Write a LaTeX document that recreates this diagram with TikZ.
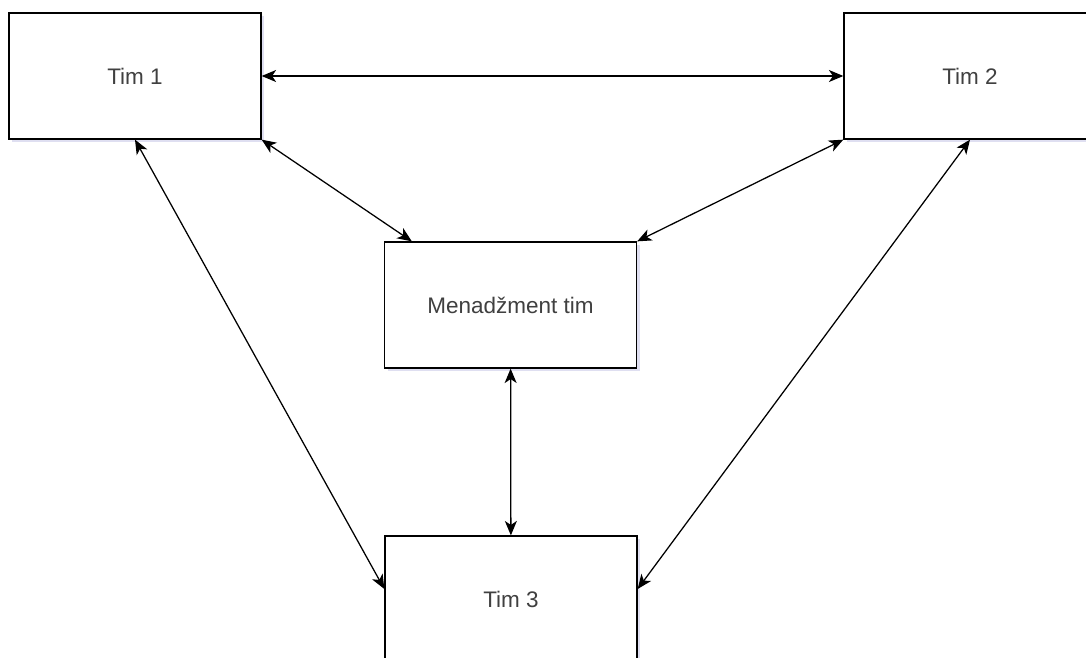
\documentclass[tikz,border=0pt]{standalone}
\usepackage{fontspec}
\setmainfont{Liberation Sans}
\usetikzlibrary{arrows.meta}
\usetikzlibrary{shadows}

\tikzset{
    teambox/.style={draw, line width=0.9pt, fill=white, minimum width=6.3cm, minimum height=3.15cm,
        text=black!75, font=\fontsize{16}{18}\selectfont,
        drop shadow={opacity=0.18, fill=blue!40!gray, shadow xshift=0.08cm, shadow yshift=-0.08cm}},
    link/.style={line width=0.9pt, {Stealth[length=0.36cm, width=0.3cm, inset=0.1cm]}-{Stealth[length=0.36cm, width=0.3cm, inset=0.1cm]}}
}

\begin{document}
\begin{tikzpicture}[x=0.025cm, y=-0.025cm]
        \useasboundingbox (0, 0) rectangle (1086, 658);
        \clip (0, 0) rectangle (1086, 658);
        \node[teambox] (T1) at (135, 76) {Tim 1};
        \node[teambox] (T2) at (970, 76) {Tim 2};
        \node[teambox] (MT) at (510.5, 305) {Menadžment tim};
        \node[teambox] (T3) at (511, 599) {Tim 3};
        \draw (T1) edge[link] (T2);
        \draw (T1.south east) edge[link] ([xshift=0.7cm]MT.north west);
        \draw (T2.south west) edge[link] (MT.north east);
        \draw (MT) edge[link] (T3);
        \draw (T1.south) edge[link] ([yshift=0.25cm]T3.west);
        \draw (T2.south) edge[link] ([yshift=0.25cm]T3.east);
    \end{tikzpicture}
\end{document}
